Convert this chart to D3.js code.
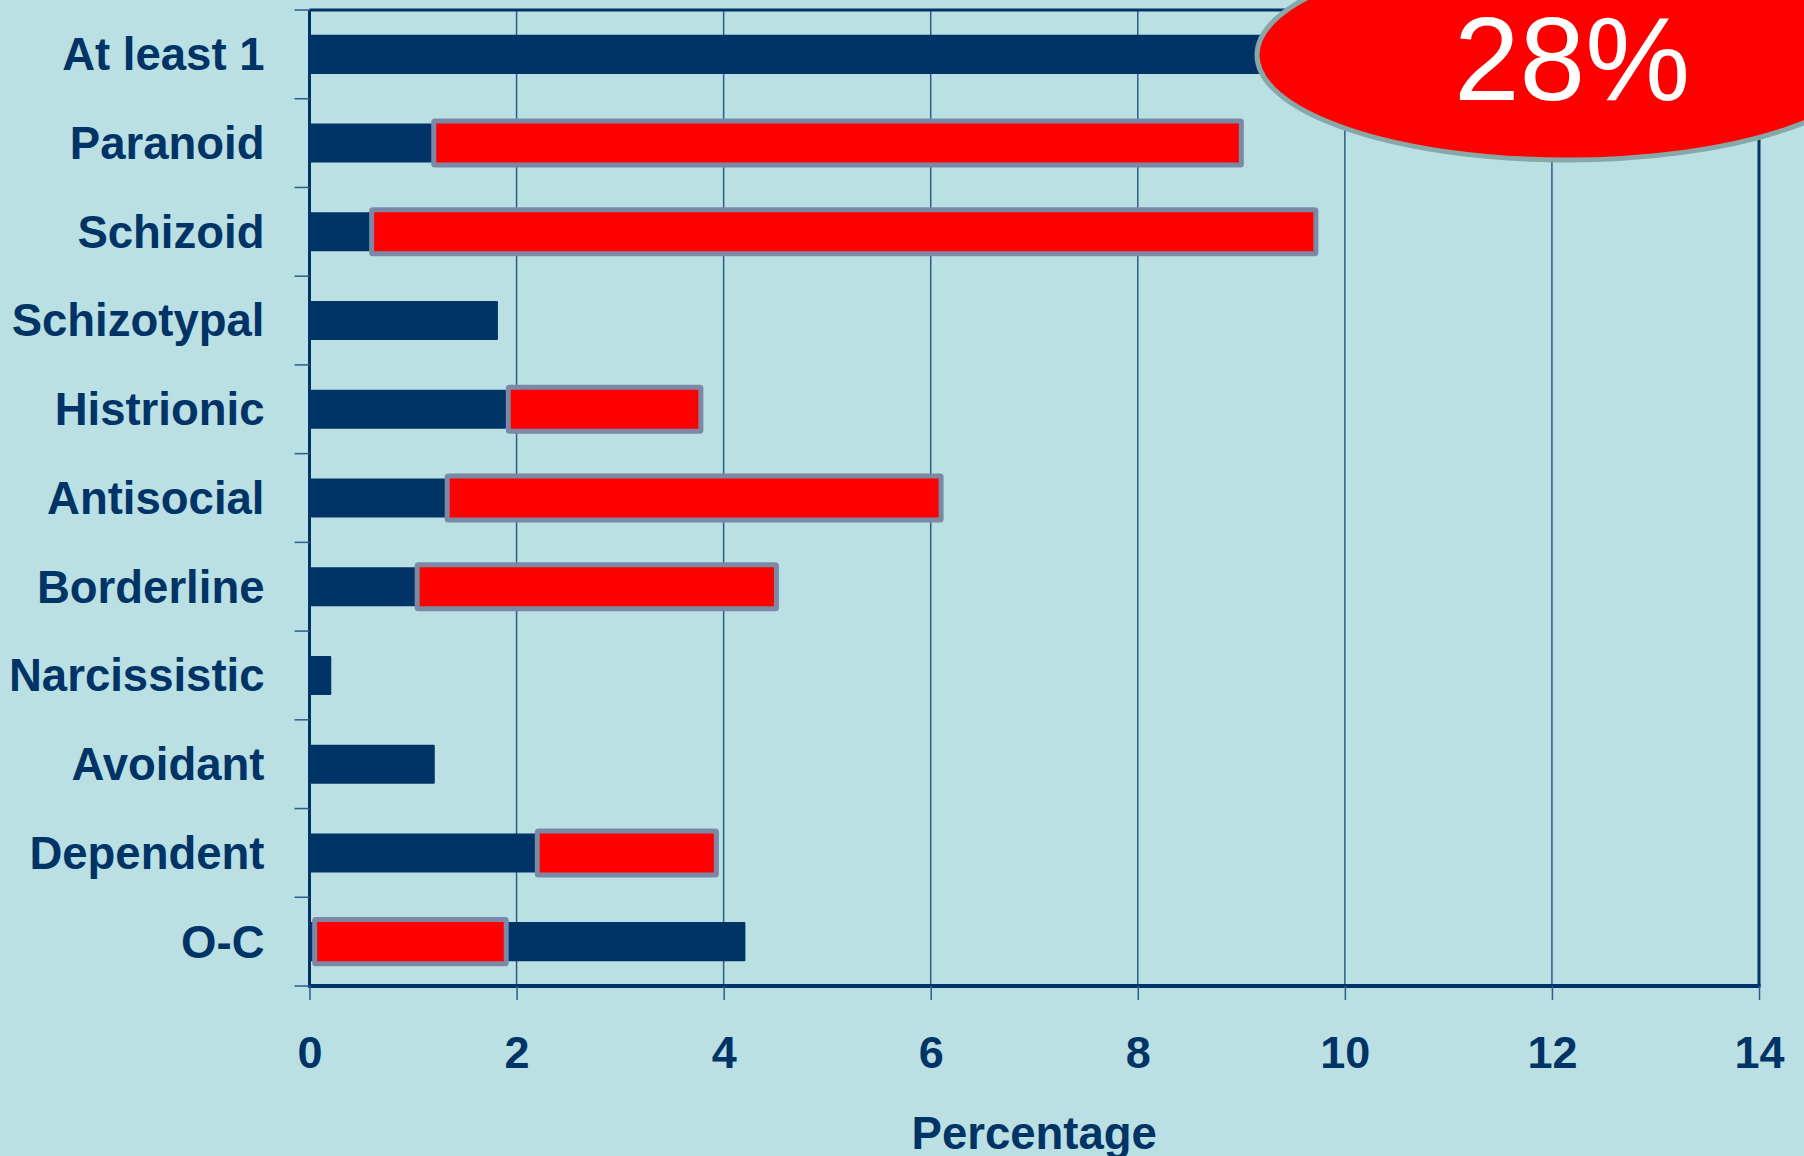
<!DOCTYPE html>
<html><head><meta charset="utf-8">
<script src="https://cdn.jsdelivr.net/npm/d3@7"></script>
<style>html,body{margin:0;padding:0;background:#bbe0e3;overflow:hidden}</style>
</head><body><svg id="c" width="1804" height="1156"></svg>
<script>
const categories = ["At least 1","Paranoid","Schizoid","Schizotypal","Histrionic","Antisocial","Borderline","Narcissistic","Avoidant","Dependent","O-C"];
const navyValues = [28, 1.2, 0.6, 1.82, 1.9, 1.33, 1.04, 0.21, 1.21, 2.2, 4.21];
const redLow  = [null, 1.2, 0.6, null, 1.92, 1.33, 1.04, null, null, 2.2, 0.05];
const redHigh = [null, 9.0, 9.72, null, 3.78, 6.1, 4.51, null, null, 3.93, 1.9];
const xTicks = [0,2,4,6,8,10,12,14];
const calloutText = "28%";
const xTitle = "Percentage";

const navy = "#003366", red = "#ff0000", redBorder = "#7b89a6";
const svg = d3.select("#c");
svg.append("rect").attr("width",1804).attr("height",1156).attr("fill","#bbe0e3");

const L = 309.5, R = 1759, T = 10, B = 986;
const x = d3.scaleLinear().domain([0,14]).range([L,R]).clamp(true);
const y = d3.scaleBand().domain(categories).range([T,B]).paddingInner(0.56).paddingOuter(0.28);

// gridlines
svg.append("g").selectAll("line").data(xTicks.filter(d=>d>0 && d<14)).join("line")
  .attr("x1",d=>x(d)).attr("x2",d=>x(d)).attr("y1",T).attr("y2",B)
  .attr("stroke","#2c5c88").attr("stroke-width",1.5);

// navy bars
svg.append("g").selectAll("rect").data(categories).join("rect")
  .attr("x",x(0)).attr("y",d=>y(d)).attr("height",y.bandwidth())
  .attr("width",(d,i)=>x(navyValues[i])-x(0)).attr("fill",navy).attr("rx",1);

// red range bars
const redData = categories.map((c,i)=>({c,lo:redLow[i],hi:redHigh[i]})).filter(d=>d.lo!==null);
svg.append("g").selectAll("rect").data(redData).join("rect")
  .attr("x",d=>x(d.lo)).attr("width",d=>x(d.hi)-x(d.lo))
  .attr("y",d=>y(d.c)-2.5).attr("height",y.bandwidth()+5)
  .attr("fill",red).attr("stroke",redBorder).attr("stroke-width",5).attr("rx",1);

// frame
svg.append("line").attr("x1",L).attr("x2",R).attr("y1",T).attr("y2",T).attr("stroke",navy).attr("stroke-width",3);
svg.append("line").attr("x1",R).attr("x2",R).attr("y1",T).attr("y2",B).attr("stroke",navy).attr("stroke-width",3);
svg.append("line").attr("x1",L).attr("x2",L).attr("y1",T).attr("y2",B+1.5).attr("stroke",navy).attr("stroke-width",3);
svg.append("line").attr("x1",L-1.5).attr("x2",R+1.5).attr("y1",B).attr("y2",B).attr("stroke",navy).attr("stroke-width",4);

// y ticks at band boundaries
const bounds = d3.range(categories.length+1).map(i=>T + i*y.step());
svg.append("g").selectAll("line").data(bounds).join("line")
  .attr("x1",L-15).attr("x2",L).attr("y1",d=>d).attr("y2",d=>d)
  .attr("stroke","#2c5c88").attr("stroke-width",1.5);

// y labels
svg.append("g").selectAll("text").data(categories).join("text")
  .attr("x",264.5).attr("y",d=>y(d)+y.bandwidth()/2).attr("dy","0.35em")
  .attr("text-anchor","end").attr("fill",navy)
  .style("font","bold 45.5px 'Liberation Sans', Arial, sans-serif").text(d=>d);

// x axis
const xa = svg.append("g").attr("transform",`translate(0,${B})`)
  .call(d3.axisBottom(x).tickValues(xTicks).tickSize(14).tickFormat(d3.format("d")));
xa.select(".domain").remove();
xa.selectAll(".tick line").attr("stroke","#2c5c88").attr("stroke-width",1.5);
xa.selectAll(".tick text").attr("y",82).attr("dy",0).attr("fill",navy)
  .style("font","bold 45px 'Liberation Sans', Arial, sans-serif");

svg.append("text").attr("x",(L+R)/2).attr("y",1149).attr("text-anchor","middle")
  .attr("fill",navy).style("font","bold 45.5px 'Liberation Sans', Arial, sans-serif").text(xTitle);

// callout
svg.append("ellipse").attr("cx",1567).attr("cy",55).attr("rx",310).attr("ry",105)
  .attr("fill",red).attr("stroke","#88a7a8").attr("stroke-width",5);
svg.append("text").attr("x",1572).attr("y",100).attr("text-anchor","middle").attr("fill","#ffffff")
  .style("font","118px 'Liberation Sans', Arial, sans-serif").text(calloutText);
</script></body></html>
